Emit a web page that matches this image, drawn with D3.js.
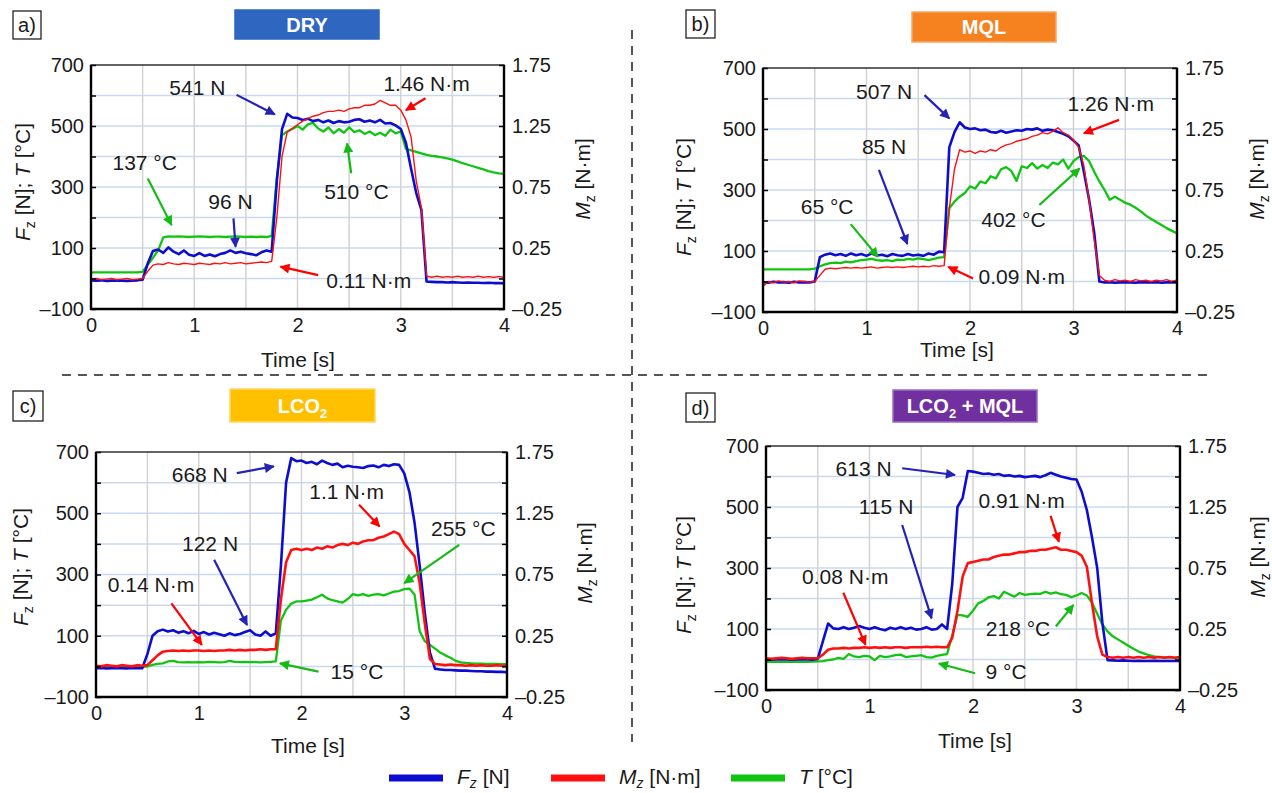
<!DOCTYPE html>
<html><head><meta charset="utf-8">
<script src="https://cdn.jsdelivr.net/npm/d3@7"></script>
<style>
body{margin:0;background:#fff;}
svg{font-family:"Liberation Sans", Arial, Helvetica, sans-serif;}
</style></head><body>
<svg id="chart" width="1272" height="793"></svg>
<script>
// ---------------- DATA ----------------
const time = [0,0.05,0.1,0.15,0.2,0.25,0.3,0.35,0.4,0.45,
 0.5,0.55,0.6,0.65,0.7,0.75,0.8,0.85,0.9,0.95,
 1,1.05,1.1,1.15,1.2,1.25,1.3,1.35,1.4,1.45,
 1.5,1.55,1.6,1.65,1.7,1.75,1.8,1.85,1.9,1.95,
 2,2.05,2.1,2.15,2.2,2.25,2.3,2.35,2.4,2.45,
 2.5,2.55,2.6,2.65,2.7,2.75,2.8,2.85,2.9,2.95,
 3,3.05,3.1,3.15,3.2,3.25,3.3,3.35,3.4,3.45,
 3.5,3.55,3.6,3.65,3.7,3.75,3.8,3.85,3.9,3.95,
 4];

// a) DRY
const dryForce = [-6,-7,-6,-8,-7,-6,-7,-8,-7,-6,
 -4,50,90,95,84,102,88,80,92,78,
 74,83,74,79,73,80,84,92,84,88,
 83,80,76,86,92,88,320,490,540,528,
 526,520,524,516,520,512,518,510,516,512,
 514,520,522,514,518,512,520,508,510,502,
 490,445,360,280,225,-10,-11,-12,-12,-13,
 -12,-13,-14,-13,-14,-14,-15,-14,-15,-15,
 -16];
const dryMoment = [-0.005,0,-0.01,-0.005,0,-0.01,-0.005,0,-0.01,-0.005,
 0,0.06,0.11,0.12,0.115,0.13,0.12,0.115,0.125,0.12,
 0.115,0.125,0.12,0.115,0.125,0.12,0.13,0.12,0.125,0.13,
 0.12,0.125,0.13,0.135,0.13,0.14,0.5,1.0,1.2,1.23,
 1.26,1.29,1.31,1.33,1.34,1.36,1.37,1.37,1.38,1.37,
 1.39,1.40,1.40,1.42,1.42,1.43,1.46,1.44,1.42,1.42,
 1.38,1.30,1.16,0.80,0.58,0.02,0.01,0.02,0.01,0.015,
 0.01,0.02,0.01,0.015,0.01,0.02,0.01,0.015,0.01,0.015,
 0.01];
const dryTemp = [20,20,20,20,20,20,20,20,20,20,
 22,45,68,92,135,138,137,138,137,136,
 137,138,137,136,137,137,136,137,138,137,
 136,137,136,137,136,140,330,470,482,490,
 500,488,505,510,492,482,495,476,490,478,
 496,480,486,474,482,470,478,468,488,476,
 482,425,420,415,410,405,402,400,397,394,
 390,384,378,373,368,363,358,352,348,345,
 343];

// b) MQL
const mqlForce = [-2,-4,-1,-3,-2,-4,-1,-3,-2,-3,
 0,80,88,92,86,90,84,92,86,90,
 84,92,85,88,83,90,86,84,90,85,
 88,84,92,88,98,96,440,490,522,505,
 500,502,496,498,490,488,494,488,492,496,
 494,500,498,502,494,498,496,490,484,476,
 462,446,360,270,160,0,-3,-2,-4,-3,
 -2,-3,-4,-2,-3,-3,-2,-4,-3,-2,
 -3];
const mqlMoment = [-0.04,0,-0.01,0.005,-0.005,0,-0.01,0.005,0,-0.005,
 0,0.05,0.10,0.11,0.105,0.11,0.115,0.11,0.115,0.11,
 0.115,0.12,0.11,0.115,0.12,0.115,0.12,0.115,0.12,0.125,
 0.12,0.125,0.12,0.13,0.125,0.13,0.6,0.92,1.08,1.06,
 1.07,1.05,1.07,1.06,1.08,1.07,1.10,1.12,1.13,1.15,
 1.16,1.17,1.19,1.20,1.22,1.21,1.23,1.26,1.22,1.20,
 1.16,1.10,0.95,0.67,0.34,0.05,0.01,0,0.015,0.005,
 0.01,0,0.015,0.005,0.01,0,0.01,0.005,0.015,0,
 0.01];
const mqlTemp = [40,40,40,40,40,40,40,40,40,40,
 42,50,56,60,62,60,65,63,67,70,
 72,74,70,68,70,67,72,70,74,72,
 76,73,70,74,78,80,240,262,278,290,
 312,305,328,322,345,338,368,375,362,330,
 378,372,388,370,382,372,390,384,400,370,
 395,408,412,395,360,328,300,268,278,268,
 258,252,242,230,216,205,195,185,175,166,
 158];

// c) LCO2
const lco2Force = [-6,-5,-7,-6,-5,-6,-7,-5,-6,-6,
 40,100,115,120,114,118,110,115,108,116,
 106,112,104,110,105,100,108,102,106,112,
 118,104,100,114,100,108,330,600,680,670,
 672,664,668,660,672,664,658,662,650,655,
 652,650,648,654,656,650,658,654,660,658,
 630,570,470,330,175,45,-8,-10,-12,-12,
 -13,-14,-14,-15,-16,-16,-17,-17,-18,-18,
 -19];
const lco2Moment = [0.005,0,0.01,0.005,0,0.01,0.005,0,0.01,0.005,
 0.01,0.05,0.09,0.12,0.125,0.13,0.125,0.13,0.125,0.13,
 0.13,0.125,0.13,0.125,0.13,0.13,0.135,0.13,0.135,0.13,
 0.135,0.135,0.14,0.135,0.14,0.14,0.55,0.85,0.95,0.96,
 0.95,0.96,0.95,0.97,0.96,0.98,0.97,0.99,1.0,0.99,
 1.01,1.0,1.02,1.03,1.03,1.05,1.06,1.08,1.1,1.08,
 1.0,0.95,0.9,0.68,0.35,0.06,0.02,0.015,0.01,0.015,
 0.01,0.01,0.005,0.01,0.005,0.01,0.005,0.005,0.01,0.005,
 0.005];
const lco2Temp = [-2,-2,-2,-2,-2,-2,-2,-2,-2,-2,
 0,5,8,10,16,18,14,13,14,13,
 14,13,15,14,13,14,18,15,14,15,
 14,14,13,14,15,16,150,185,205,212,
 212,215,218,226,234,222,216,212,208,220,
 236,232,236,230,234,236,232,238,244,246,
 252,254,235,115,82,70,58,45,36,28,
 18,13,11,10,9,9,8,8,8,7,
 7];

// d) LCO2 + MQL
const comboForce = [0,-1,0,1,0,-1,0,1,0,-1,
 2,60,118,102,100,106,100,104,110,104,
 100,106,100,96,104,100,106,100,104,98,
 100,106,98,100,115,100,250,500,530,618,
 616,612,608,610,606,608,602,604,600,602,
 598,600,602,598,604,612,606,600,596,592,
 590,550,490,400,300,120,-2,-3,-4,-3,
 -4,-5,-4,-5,-5,-4,-5,-5,-5,-5,
 -5];
const comboMoment = [0.01,0.005,0.01,0.015,0.01,0.005,0.01,0.015,0.01,0.01,
 0.01,0.04,0.08,0.09,0.09,0.095,0.09,0.095,0.095,0.1,
 0.095,0.1,0.095,0.1,0.095,0.1,0.1,0.095,0.1,0.1,
 0.1,0.105,0.1,0.105,0.1,0.1,0.18,0.4,0.68,0.79,
 0.8,0.81,0.82,0.82,0.84,0.85,0.86,0.86,0.87,0.88,
 0.88,0.89,0.89,0.9,0.9,0.91,0.92,0.9,0.9,0.89,
 0.88,0.85,0.76,0.46,0.19,0.04,0.02,0.015,0.02,0.015,
 0.02,0.015,0.02,0.015,0.02,0.015,0.02,0.015,0.02,0.015,
 0.02];
const comboTemp = [-8,-8,-8,-8,-8,-8,-7,-8,-8,-7,
 -6,-5,-2,0,5,2,18,10,8,12,
 10,-2,12,8,10,14,16,8,10,12,
 14,8,6,12,15,18,80,146,145,140,
 160,184,192,204,208,200,222,214,206,218,
 212,214,216,215,222,216,220,214,212,204,
 210,218,210,186,150,115,92,76,66,56,
 45,35,26,20,14,10,8,7,7,6,
 6];

// tick labels
const xTickLabels = [0, 1, 2, 3, 4];
const leftTicks = [-100, 0, 100, 200, 300, 400, 500, 600, 700];
const leftTickLabels = [-100, 100, 300, 500, 700];
const rightTicks = [-0.25, 0, 0.25, 0.5, 0.75, 1, 1.25, 1.5, 1.75];
const rightTickLabels = [-0.25, 0.25, 0.75, 1.25, 1.75];
const panelLetters = ["a)", "b)", "c)", "d)"];
const panelTitles = ["DRY", "MQL", "LCO2", "LCO2 + MQL"];
const legendLabels = ["Fz [N]", "Mz [N·m]", "T [°C]"];

// annotations: [text, series, textTime, textValue, arrowFromTime, arrowFromValue, arrowToTime, arrowToValue] (values on force/temperature scale)
const dryNotes = [
 ["541 N","force",1.03,628,1.41,602,1.78,538],
 ["1.46 N·m","moment",3.25,641,3.24,591,3.05,552],
 ["137 °C","temp",0.52,379,0.55,328,0.78,175],
 ["96 N","force",1.35,252,1.38,197,1.40,104],
 ["510 °C","temp",2.57,285,2.52,345,2.48,443],
 ["0.11 N·m","moment",2.69,-5,2.20,11,1.835,39]
];
const mqlNotes = [
 ["507 N","force",1.17,622,1.56,611,1.80,535],
 ["1.26 N·m","moment",3.36,584,3.44,530,3.10,486],
 ["85 N","force",1.17,442,1.12,366,1.395,123],
 ["65 °C","temp",0.62,245,0.847,188,1.11,81],
 ["402 °C","temp",2.42,202,2.67,251,3.06,371],
 ["0.09 N·m","moment",2.50,16,2.03,10,1.79,48]
];
const lco2Notes = [
 ["668 N","force",1.01,626,1.37,631,1.73,653],
 ["1.1 N·m","moment",2.44,571,2.56,528,2.76,457],
 ["255 °C","temp",3.575,451,3.535,397,3.0,272],
 ["122 N","force",1.11,402,1.15,348,1.47,135],
 ["0.14 N·m","moment",0.535,266,0.734,206,1.03,70],
 ["15 °C","temp",2.54,-17,2.165,-17,1.79,10]
];
const comboNotes = [
 ["613 N","force",0.943,627,1.316,627,1.826,605],
 ["115 N","force",1.16,501,1.316,441,1.60,135],
 ["0.91 N·m","moment",2.47,523,2.75,471,2.83,386],
 ["0.08 N·m","moment",0.766,272,0.747,219,0.962,48],
 ["218 °C","temp",2.435,102,2.80,108,2.97,179],
 ["9 °C","temp",2.32,-40,2.02,-45,1.67,-13]
];

// ---------------- LAYOUT / STYLE ----------------
const COL = {force:"#0d0dcf", moment:"#ff1010", temp:"#12c412"};
const ARR = {force:"#2323b8", moment:"#ff0000", temp:"#14bb14"};
const TXT = "#1a1a1a";

const panels = [
 {force:dryForce, moment:dryMoment, temp:dryTemp, notes:dryNotes,
  x0:91, x1:504, y0:65, y1:309, box:[235,10,144,29], boxFill:"#2f66bf", boxStroke:"#2f66bf",
  lab:[13,11,28,28], xlab:[298,367], ylab:[22,182], rlab:[582,179], redW:1.4},
 {force:mqlForce, moment:mqlMoment, temp:mqlTemp, notes:mqlNotes,
  x0:763, x1:1177, y0:68, y1:312, box:[912,12,144,30], boxFill:"#f5821f", boxStroke:"#f8a866",
  lab:[686,10,29,28], xlab:[957,357], ylab:[683,197], rlab:[1256,179], redW:1.4},
 {force:lco2Force, moment:lco2Moment, temp:lco2Temp, notes:lco2Notes,
  x0:96, x1:507, y0:452, y1:697, box:[230,389,145,33], boxFill:"#ffc000", boxStroke:"#ffd766",
  lab:[13,391,30,30], xlab:[308,753], ylab:[20,567], rlab:[584,563], redW:2.6},
 {force:comboForce, moment:comboMoment, temp:comboTemp, notes:comboNotes,
  x0:766, x1:1180, y0:446, y1:690, box:[893,390,144,32], boxFill:"#7030a0", boxStroke:"#9a6cc0",
  lab:[686,393,29,29], xlab:[975,748], ylab:[683,575], rlab:[1257,557], redW:2.6}
];

const svg = d3.select("#chart");
const defs = svg.append("defs");
Object.keys(ARR).forEach(k => {
  defs.append("marker").attr("id","ah-"+k).attr("viewBox","0 0 10 10")
    .attr("refX",9).attr("refY",5).attr("markerWidth",13).attr("markerHeight",10)
    .attr("markerUnits","userSpaceOnUse").attr("orient","auto")
    .append("path").attr("d","M0,0L10,5L0,10Z").attr("fill",ARR[k]);
});

function rich(sel, parts, size, subShift){
  const sh = subShift === undefined ? 5 : subShift;
  let shift = 0;
  parts.forEach(p => {
    const ts = sel.append("tspan").text(p.t);
    if (p.i) ts.attr("font-style","italic");
    const want = p.sub ? sh : 0;
    if (want !== shift){ ts.attr("dy", want - shift); shift = want; }
    if (p.sub) ts.attr("font-size", Math.round(size*0.65));
  });
}
const near = (arr, d) => arr.some(v => Math.abs(v-d) < 1e-9);
const dash = s => s.replace("-", "\u2013").replace("\u2212", "\u2013");

// separators
svg.append("line").attr("x1",632).attr("x2",632).attr("y1",30).attr("y2",742)
  .attr("stroke","#555").attr("stroke-width",2).attr("stroke-dasharray","9,7");
svg.append("line").attr("x1",62).attr("x2",1208).attr("y1",375).attr("y2",375)
  .attr("stroke","#555").attr("stroke-width",2).attr("stroke-dasharray","9,7");

panels.forEach((p, pi) => {
  const x = d3.scaleLinear().domain([0,4]).range([p.x0,p.x1]);
  const yL = d3.scaleLinear().domain([-100,700]).range([p.y1,p.y0]);
  const yR = d3.scaleLinear().domain([-0.25,1.75]).range([p.y1,p.y0]);
  const g = svg.append("g");

  // panel letter box
  g.append("rect").attr("x",p.lab[0]).attr("y",p.lab[1]).attr("width",p.lab[2]).attr("height",p.lab[3])
    .attr("fill","#fff").attr("stroke","#222").attr("stroke-width",1.3);
  g.append("text").attr("x",p.lab[0]+p.lab[2]/2).attr("y",p.lab[1]+p.lab[3]/2)
    .attr("dy","0.36em").attr("text-anchor","middle").attr("font-size",20).attr("fill",TXT)
    .text(panelLetters[pi]);

  // title box
  g.append("rect").attr("x",p.box[0]).attr("y",p.box[1]).attr("width",p.box[2]).attr("height",p.box[3])
    .attr("fill",p.boxFill).attr("stroke",p.boxStroke).attr("stroke-width",1.5);
  const tt = g.append("text").attr("x",p.box[0]+p.box[2]/2).attr("y",p.box[1]+p.box[3]/2)
    .attr("dy","0.36em").attr("text-anchor","middle").attr("font-size",20).attr("font-weight","bold")
    .attr("fill","#fff");
  const title = panelTitles[pi];
  if (title.startsWith("LCO2")) {
    rich(tt, [{t:"LCO"},{t:"2",sub:true},{t:title.slice(4)}], 20);
  } else tt.text(title);

  // grid
  g.selectAll(null).data(leftTicks.filter(v => v > -100 && v < 700)).join("line")
    .attr("x1",p.x0).attr("x2",p.x1).attr("y1",d => yL(d)).attr("y2",d => yL(d))
    .attr("stroke","#c8daf0").attr("stroke-width",1.5);
  g.selectAll(null).data(x.ticks(8).filter(v => v > 0 && v < 4)).join("line")
    .attr("x1",d => x(d)).attr("x2",d => x(d)).attr("y1",p.y0).attr("y2",p.y1)
    .attr("stroke","#d3d3d3").attr("stroke-width",1.5);

  // series
  const cid = "clip" + pi;
  defs.append("clipPath").attr("id",cid).append("rect")
    .attr("x",p.x0).attr("y",p.y0).attr("width",p.x1-p.x0).attr("height",p.y1-p.y0);
  const plot = g.append("g").attr("clip-path",`url(#${cid})`);
  const lineL = d3.line().x((d,i) => x(time[i])).y(d => yL(d));
  const lineR = d3.line().x((d,i) => x(time[i])).y(d => yR(d));
  plot.append("path").datum(p.temp).attr("d",lineL).attr("fill","none")
    .attr("stroke",COL.temp).attr("stroke-width",2.3).attr("stroke-linejoin","round");
  plot.append("path").datum(p.force).attr("d",lineL).attr("fill","none")
    .attr("stroke",COL.force).attr("stroke-width",2.6).attr("stroke-linejoin","round");
  plot.append("path").datum(p.moment).attr("d",lineR).attr("fill","none")
    .attr("stroke",COL.moment).attr("stroke-width",p.redW).attr("stroke-linejoin","round");

  // axes
  const styleAxis = sel => {
    sel.select(".domain").remove();
    sel.selectAll(".tick line").attr("stroke","#000").attr("stroke-width",1.5);
    sel.selectAll("text").attr("font-size",20).attr("fill",TXT)
      .attr("font-family",'"Liberation Sans", Arial, sans-serif');
  };
  g.append("g").attr("transform",`translate(${p.x0},0)`)
    .call(d3.axisLeft(yL).tickValues(leftTicks)
      .tickFormat(d => near(leftTickLabels,d) ? dash(String(d)) : "")
      .tickSizeInner(-5).tickSizeOuter(0).tickPadding(7))
    .call(styleAxis);
  g.append("g").attr("transform",`translate(${p.x1},0)`)
    .call(d3.axisRight(yR).tickValues(rightTicks)
      .tickFormat(d => near(rightTickLabels,d) ? dash(d3.format(".2f")(d)) : "")
      .tickSizeInner(-5).tickSizeOuter(0).tickPadding(8))
    .call(styleAxis);
  g.append("g").attr("transform",`translate(0,${p.y1})`)
    .call(d3.axisBottom(x).tickValues(xTickLabels).tickFormat(d3.format("d"))
      .tickSize(0).tickPadding(9))
    .call(styleAxis);

  // frame
  g.append("rect").attr("x",p.x0).attr("y",p.y0).attr("width",p.x1-p.x0).attr("height",p.y1-p.y0)
    .attr("fill","none").attr("stroke","#111").attr("stroke-width",1.3);
  g.append("path")
    .attr("d",`M${p.x0},${p.y0}V${p.y1}H${p.x1}V${p.y0}`)
    .attr("fill","none").attr("stroke","#000").attr("stroke-width",2.4);

  // axis titles
  g.append("text").attr("x",p.xlab[0]).attr("y",p.xlab[1]).attr("text-anchor","middle")
    .attr("font-size",21).attr("fill",TXT).text("Time [s]");
  const yl = g.append("text").attr("transform",`translate(${p.ylab[0]},${p.ylab[1]}) rotate(-90)`)
    .attr("text-anchor","middle").attr("dy","0.36em").attr("font-size",21).attr("fill",TXT);
  rich(yl, [{t:"F",i:true},{t:"z",sub:true},{t:" [N]; "},{t:"T",i:true},{t:" [°C]"}], 21);
  const rl = g.append("text").attr("transform",`translate(${p.rlab[0]},${p.rlab[1]}) rotate(-90)`)
    .attr("text-anchor","middle").attr("dy","0.36em").attr("font-size",21).attr("fill",TXT);
  rich(rl, [{t:"M",i:true},{t:"z",sub:true},{t:" [N·m]"}], 21);

  // annotations
  p.notes.forEach(n => {
    const [label, key, tx, tv, fx, fv, ax, av] = n;
    g.append("line").attr("x1",x(fx)).attr("y1",yL(fv)).attr("x2",x(ax)).attr("y2",yL(av))
      .attr("stroke",ARR[key]).attr("stroke-width",2.2).attr("marker-end",`url(#ah-${key})`);
    g.append("text").attr("x",x(tx)).attr("y",yL(tv)).attr("dy","0.36em").attr("text-anchor","middle")
      .attr("font-size",21).attr("fill",TXT).text(label);
  });
});

// legend
const legendKeys = ["force","moment","temp"];
const legendX = [389, 551, 731];
const lg = svg.append("g");
legendKeys.forEach((k, i) => {
  lg.append("line").attr("x1",legendX[i]).attr("x2",legendX[i]+54).attr("y1",778).attr("y2",778)
    .attr("stroke",COL[k]).attr("stroke-width",7);
  const t = lg.append("text").attr("x",legendX[i]+68).attr("y",776).attr("dy","0.36em")
    .attr("font-size",21).attr("fill",TXT);
  const lab = legendLabels[i];
  if (i === 0) rich(t, [{t:"F",i:true},{t:"z",sub:true,i:true},{t:lab.slice(2)}], 21, 4);
  else if (i === 1) rich(t, [{t:"M",i:true},{t:"z",sub:true,i:true},{t:lab.slice(2)}], 21, 4);
  else rich(t, [{t:"T",i:true},{t:lab.slice(1)}], 21, 4);
});
</script>
</body></html>
